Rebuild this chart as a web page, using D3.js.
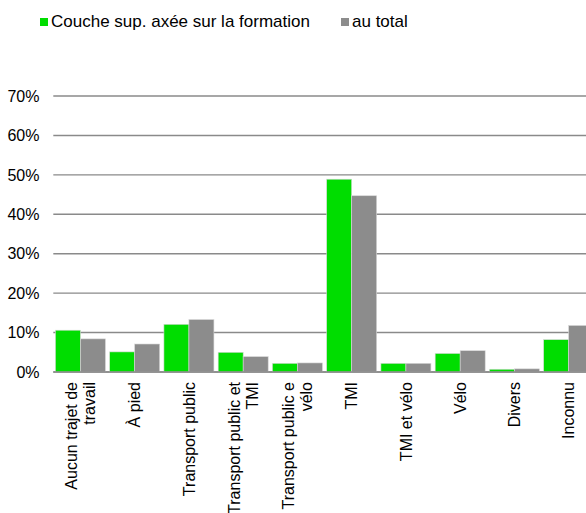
<!DOCTYPE html>
<html>
<head>
<meta charset="utf-8">
<script src="https://cdn.jsdelivr.net/npm/d3@7"></script>
<style>
  html, body { margin: 0; padding: 0; background: #fff; overflow: hidden; }
  svg { display: block; font-family: "Liberation Sans", Arial, sans-serif; }
</style>
</head>
<body>
<svg id="chart" width="586" height="513"></svg>
<script>
const categories = [
  ["Aucun trajet de", "travail"],
  ["À pied"],
  ["Transport public"],
  ["Transport public et", "TMI"],
  ["Transport public e", "vélo"],
  ["TMI"],
  ["TMI et vélo"],
  ["Vélo"],
  ["Divers"],
  ["Inconnu"]
];
const seriesNames = ["Couche sup. axée sur la formation", "au total"];
const seriesFormation = [10.6, 5.1, 12.1, 5.0, 2.2, 48.9, 2.2, 4.7, 0.7, 8.2];
const seriesTotal = [8.4, 7.1, 13.3, 3.9, 2.3, 44.7, 2.2, 5.4, 0.8, 11.8];
const yTicks = [0, 10, 20, 30, 40, 50, 60, 70];
const colors = ["#00DD00", "#8C8C8C"];

(function () {
const svg = d3.select("#chart");
// plot area extends past the right edge (chart is clipped there, as in the reference)
const mLeft = 53.3, mRight = 595.8, mTop = 96, mBottom = 372;

const x0 = d3.scaleBand().domain(d3.range(categories.length)).range([mLeft, mRight]).paddingInner(0.078).paddingOuter(0.039);
const x1 = d3.scaleBand().domain([0, 1]).range([0, x0.bandwidth()]);
const y = d3.scaleLinear().domain([0, 70]).range([mBottom, mTop]);

// gridlines
svg.append("g").selectAll("line").data(yTicks).join("line")
  .attr("x1", mLeft).attr("x2", mRight)
  .attr("y1", d => y(d)).attr("y2", d => y(d))
  .attr("stroke", "#8a8a8a").attr("stroke-width", 1.4);

// y labels
svg.append("g").selectAll("text").data(yTicks).join("text")
  .attr("x", 39.5).attr("y", d => y(d)).attr("dy", "0.36em")
  .attr("text-anchor", "end").attr("font-size", 16).attr("fill", "#000")
  .text(d => d + "%");

// bars
const series = [seriesFormation, seriesTotal];
series.forEach((vals, si) => {
  svg.append("g").selectAll("rect").data(vals).join("rect")
    .attr("x", (d, i) => x0(i) + x1(si))
    .attr("width", x1.bandwidth())
    .attr("y", d => y(d))
    .attr("height", d => y(0) - y(d))
    .attr("fill", colors[si])
    .attr("stroke", "#d8d8d8").attr("stroke-width", 0.6);
});

// baseline
svg.append("line").attr("x1", mLeft).attr("x2", mRight).attr("y1", y(0)).attr("y2", y(0))
  .attr("stroke", "#8a8a8a").attr("stroke-width", 1.6);

// x labels (rotated, end at top)
const lh = 18;
categories.forEach((lines, i) => {
  const cx = x0(i) + x0.bandwidth() / 2;
  const n = lines.length;
  const t = svg.append("text")
    .attr("transform", `translate(${cx},382) rotate(-90)`)
    .attr("text-anchor", "end").attr("font-size", 16).attr("fill", "#000");
  lines.forEach((ln, k) => {
    const off = (k - (n - 1) / 2) * lh;
    t.append("tspan").attr("x", 0).attr("y", off).attr("dy", "0.35em").text(ln);
  });
});

// legend
const legend = svg.append("g");
const lx = [40, 341];
seriesNames.forEach((name, i) => {
  legend.append("rect").attr("x", lx[i]).attr("y", 18).attr("width", 8).attr("height", 8).attr("fill", colors[i]);
  legend.append("text").attr("x", lx[i] + 11).attr("y", 27).attr("font-size", 17).attr("fill", "#000").text(name);
});
})();
</script>
</body>
</html>
